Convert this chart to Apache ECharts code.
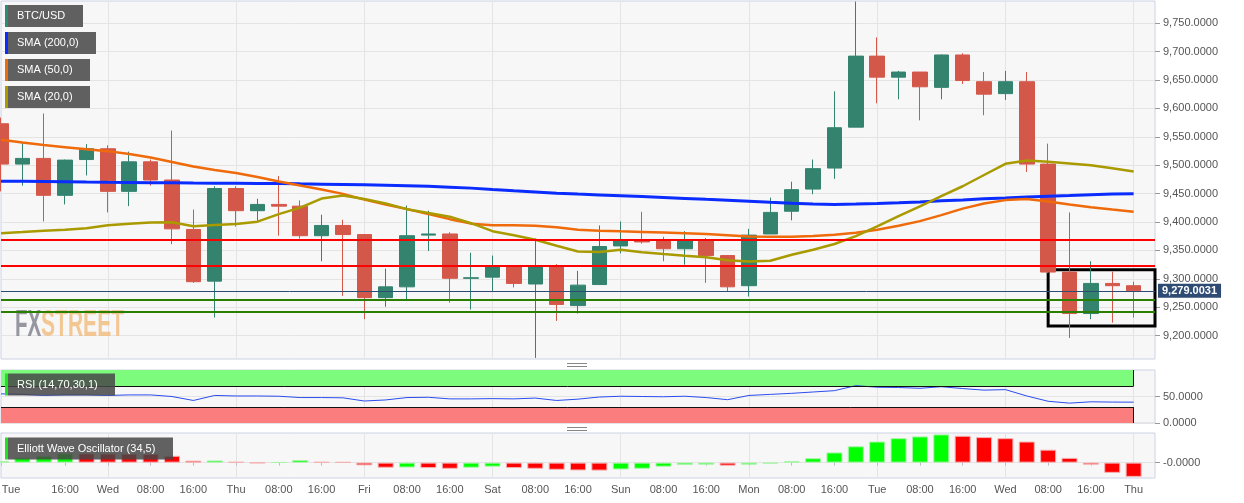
<!DOCTYPE html>
<html><head><meta charset="utf-8">
<script src="https://cdn.jsdelivr.net/npm/echarts@6/dist/echarts.min.js"></script>
<style>html,body{margin:0;padding:0;background:#fff}#c{width:1244px;height:503px}</style>
</head><body><div id="c"></div>
<script>
// ---- DATA ----
const categories = [
 'Tue 16 04:00','Tue 16 08:00','Tue 16 12:00','Tue 16 16:00','Tue 16 20:00',
 'Wed 17 00:00','Wed 17 04:00','Wed 17 08:00','Wed 17 12:00','Wed 17 16:00','Wed 17 20:00',
 'Thu 18 00:00','Thu 18 04:00','Thu 18 08:00','Thu 18 12:00','Thu 18 16:00','Thu 18 20:00',
 'Fri 19 00:00','Fri 19 04:00','Fri 19 08:00','Fri 19 12:00','Fri 19 16:00','Fri 19 20:00',
 'Sat 20 00:00','Sat 20 04:00','Sat 20 08:00','Sat 20 12:00','Sat 20 16:00','Sat 20 20:00',
 'Sun 21 00:00','Sun 21 04:00','Sun 21 08:00','Sun 21 12:00','Sun 21 16:00','Sun 21 20:00',
 'Mon 22 00:00','Mon 22 04:00','Mon 22 08:00','Mon 22 12:00','Mon 22 16:00','Mon 22 20:00',
 'Tue 23 00:00','Tue 23 04:00','Tue 23 08:00','Tue 23 12:00','Tue 23 16:00','Tue 23 20:00',
 'Wed 24 00:00','Wed 24 04:00','Wed 24 08:00','Wed 24 12:00','Wed 24 16:00','Wed 24 20:00',
 'Thu 25 00:00','Thu 25 04:00'
];
// [open, close, low, high]
const ohlc = [
 [9573,9502,9454,9584],[9502,9512,9464,9540],[9512,9447,9401,9591],[9447,9509,9431,9510],
 [9510,9529,9482,9537],[9529,9454,9417,9535],[9454,9506,9428,9524],[9506,9474,9464,9510],
 [9474,9388,9361,9561],[9387,9295,9293,9422],[9296,9459,9232,9463],[9459,9420,9392,9463],
 [9420,9431,9402,9441],[9431,9428,9376,9481],[9428,9376,9371,9438],[9376,9394,9331,9413],
 [9394,9378,9270,9404],[9378,9267,9229,9379],[9267,9286,9251,9318],[9286,9376,9264,9429],
 [9377,9379,9349,9420],[9379,9301,9258,9382],[9301,9302,9246,9346],[9303,9321,9278,9341],
 [9321,9292,9285,9322],[9291,9321,9161,9371],[9322,9255,9226,9326],[9253,9289,9239,9314],
 [9290,9357,9290,9394],[9358,9369,9345,9401],[9369,9365,9362,9418],[9368,9353,9331,9374],
 [9353,9368,9325,9384],[9369,9341,9293,9372],[9341,9286,9277,9342],[9288,9377,9269,9388],
 [9379,9417,9379,9443],[9419,9457,9403,9471],[9458,9494,9449,9510],[9495,9566,9476,9630],
 [9567,9692,9567,9788],[9692,9655,9609,9725],[9655,9664,9616,9666],[9664,9638,9579,9664],
 [9637,9694,9616,9695],[9694,9649,9643,9697],[9647,9625,9588,9664],[9626,9647,9615,9666],
 [9647,9502,9488,9664],[9502,9312,9310,9538],[9312,9239,9196,9417],[9239,9292,9229,9331],
 [9292,9288,9223,9313],[9288,9279,9232,9295]
];
const sma200 = [9471.8,9471.6,9471.3,9471,9470.4,9470,9469.7,9469.3,9469,9468.6,9468.3,9468.1,9467.9,9467.8,9467.2,9466.7,9466.2,9465.5,9464.8,9464.1,9463,9461.4,9459.7,9457.2,9455,9452.9,9450.8,9449.2,9447.8,9446.4,9444.8,9443.2,9441.6,9440,9438.5,9436.7,9434.9,9433.2,9431.7,9430.9,9431.6,9432.7,9433.9,9435.5,9437.3,9439,9440.8,9442.3,9443.9,9445.3,9446.7,9448.2,9449.2,9450];
const sma50 = [9544.9,9540.1,9535.4,9531.8,9528.3,9524.8,9519.8,9513.6,9505.7,9497.8,9491.6,9486.3,9479.2,9471.3,9464.2,9457.2,9449.6,9439.5,9430.7,9422.7,9413.9,9405.1,9397.2,9394.2,9394.2,9393.6,9391,9386.6,9384.8,9383.6,9382.7,9381.6,9380.4,9379.1,9376.9,9374.7,9374.2,9374.2,9375.4,9377.7,9381.3,9386.6,9393.6,9401.6,9412.2,9423.6,9432.5,9438.6,9440.7,9436,9430.7,9425.9,9421.9,9418];
const sma20 = [9380.4,9382.5,9384.8,9386.6,9389.2,9394.5,9397.2,9399.3,9399.8,9392.7,9395,9396.6,9400.7,9413.9,9425.4,9441.3,9446.6,9440.4,9432.5,9422.7,9416,9409.5,9398,9383.9,9376.9,9368.9,9358.3,9348.3,9347.2,9351.3,9346.8,9343.7,9340.7,9338,9332.7,9330.6,9331.8,9342.4,9351.3,9361.3,9375.1,9392.4,9410.4,9427.7,9445.7,9463,9482.8,9502.5,9508.3,9506,9503.1,9500,9494.8,9488.9];
const rsi = [55,54,52,53,53,52,53,53,50,42.5,52,51,51,50.5,48,48,47.5,41.5,43.5,48,48.5,45.5,45.5,46,45.5,47,42.5,45,49,50.5,50,49.5,50.5,48,44,52,54,56,58.5,61,70.5,67.5,67,65.5,68.5,65,62,63,51,41,37.5,40,39.5,39.3];
const ewo = [10,36.5,48.7,67,66,65,64,63,49,14,15.5,5,-3,2,19,5,4,-19.5,-36.5,-35,-39,-44,-36.5,-29,-39,-44,-51,-56,-57,-49,-44,-29,-17,-14.6,-22,-14.6,-7.3,9.7,31.7,73,117,151,175,187.5,202,192,182.6,175,151,92.5,34,-14.6,-73,-102];
const resistanceLevels = [9369, 9323];
const supportLevels = [9263.5, 9242.4];
const lastPrice = 9279.0031;
const priceTicks = [9200,9250,9300,9350,9400,9450,9500,9550,9600,9650,9700,9750];
const rsiTicks = [0, 50];
const ewoTicks = [0];
const boxRange = {from: 49, to: 54, top: 9316, bottom: 9217};

// ---- HELPERS ----
function fmt(v){ const s = Number(v).toFixed(4); const p = s.split('.'); return p[0].replace(/\B(?=(\d{3})+(?!\d))/g, ',') + '.' + p[1]; }
const FONT = "Arial, 'Liberation Sans', sans-serif";
const GRID_BORDER = '#cdd2e4';
const SPLIT = '#e4e4e4';
const dayLine = (i) => i % 6 === 5;

const chart = echarts.init(document.getElementById('c'), null, {renderer: 'canvas'});

function xAxisFor(gi, showLabels){
  return {
    type: 'category', gridIndex: gi, data: categories, boundaryGap: false,
    axisLine: {show: false},
    axisTick: showLabels ? {show: true, length: 3, lineStyle: {color: '#b8bccd'},
      interval: (i) => i === 0 || (i >= 3 && i % 2 === 1)} : {show: false},
    axisLabel: showLabels ? {
      show: true, color: '#555', fontSize: 11, fontFamily: FONT, margin: 6,
      interval: (i) => i === 0 || (i >= 3 && i % 2 === 1),
      formatter: (v, i) => {
        const p = v.split(' ');
        if (i === 0) return '{f|' + p[0] + '}';
        return p[2] === '00:00' ? p[0] : p[2];
      },
      rich: {f: {padding: [0, 0, 0, 20], color: '#555', fontSize: 11, fontFamily: FONT}}
    } : {show: false},
    splitLine: {show: true, interval: dayLine, lineStyle: {color: SPLIT, width: 1}}
  };
}

const ewoData = ewo.map((v, i) => {
  const up = i === 0 || v >= ewo[i - 1];
  return {value: v, itemStyle: {color: up ? '#00ff00' : '#ff0000', borderColor: up ? '#a8f5a8' : '#f5b0b0', borderWidth: 1}};
});

function legendBox(x, y, w, h, stripe, text, fill){
  return [
    {type: 'rect', z: 100, shape: {x: x + 3, y: y, width: w - 3, height: h}, style: {fill: fill}},
    {type: 'rect', z: 101, shape: {x: x, y: y, width: 3, height: h}, style: {fill: stripe}},
    {type: 'text', z: 102, x: x + 12, y: y + h / 2, style: {text: text, fill: '#fff', font: '11px ' + FONT, verticalAlign: 'middle', align: 'left'}}
  ];
}

const option = {
  animation: false,
  backgroundColor: '#ffffff',
  grid: [
    {left: 1, right: 89, top: 1, height: 358, show: true, backgroundColor: '#f7f7f7', borderColor: GRID_BORDER, borderWidth: 1, containLabel: false, outerBoundsMode: 'none'},
    {left: 1, right: 89, top: 370, height: 53, show: true, backgroundColor: '#f7f7f7', borderColor: GRID_BORDER, borderWidth: 1, containLabel: false, outerBoundsMode: 'none'},
    {left: 1, right: 89, top: 433, height: 45, show: true, backgroundColor: '#f7f7f7', borderColor: GRID_BORDER, borderWidth: 1, containLabel: false, outerBoundsMode: 'none'}
  ],
  xAxis: [xAxisFor(0, false), xAxisFor(1, false), xAxisFor(2, true)],
  yAxis: [
    {type: 'value', gridIndex: 0, position: 'right', min: 9159, max: 9789, scale: true,
     axisLine: {show: false},
     axisTick: {show: true, length: 5, customValues: priceTicks, lineStyle: {color: '#999'}},
     axisLabel: {show: true, customValues: priceTicks, formatter: fmt, color: '#555', fontSize: 11, fontFamily: FONT, margin: 8},
     splitLine: {show: true, lineStyle: {color: SPLIT}}},
    {type: 'value', gridIndex: 1, position: 'right', min: 0, max: 100,
     axisLine: {show: false},
     axisTick: {show: true, length: 5, customValues: rsiTicks, lineStyle: {color: '#999'}},
     axisLabel: {show: true, customValues: rsiTicks, formatter: (v) => fmt(v), color: '#555', fontSize: 11, fontFamily: FONT, margin: 8},
     splitLine: {show: true, lineStyle: {color: SPLIT}}},
    {type: 'value', gridIndex: 2, position: 'right', min: -110, max: 212,
     axisLine: {show: false},
     axisTick: {show: true, length: 5, customValues: ewoTicks, lineStyle: {color: '#999'}},
     axisLabel: {show: true, customValues: ewoTicks, formatter: () => '-0.0000', color: '#555', fontSize: 11, fontFamily: FONT, margin: 8},
     splitLine: {show: true, lineStyle: {color: SPLIT}}}
  ],
  series: [
    {
      name: 'BTC/USD', type: 'candlestick', xAxisIndex: 0, yAxisIndex: 0, data: ohlc, barWidth: 15, z: 2, clip: true,
      itemStyle: {color: '#33836f', color0: '#d4584a', borderColor: '#33836f', borderColor0: '#d4584a', borderWidth: 1},
      markLine: {
        symbol: 'none', silent: true, animation: false,
        data: [
          ...resistanceLevels.map(v => ({yAxis: v, lineStyle: {color: '#ff0000', width: 2, type: 'solid'}, label: {show: false}})),
          ...supportLevels.map(v => ({yAxis: v, lineStyle: {color: '#2b7f00', width: 2, type: 'solid'}, label: {show: false}})),
          {yAxis: lastPrice, lineStyle: {color: '#2e4b73', width: 1, type: 'solid'},
           label: {show: true, position: 'end', distance: 3, formatter: () => fmt(lastPrice), color: '#fff', fontWeight: 'bold', fontSize: 11, fontFamily: FONT, backgroundColor: '#2e4b73', padding: [2, 4, 1, 4]}}
        ]
      },
      markArea: {
        silent: true,
        itemStyle: {color: 'rgba(0,0,0,0)', borderColor: '#000', borderWidth: 3},
        data: [[{xAxis: categories[boxRange.from], yAxis: boxRange.top}, {xAxis: categories[boxRange.to], yAxis: boxRange.bottom}]]
      }
    },
    {name: 'SMA (200,0)', type: 'line', xAxisIndex: 0, yAxisIndex: 0, data: sma200, showSymbol: false, z: 3, lineStyle: {color: '#0a2cff', width: 3}},
    {name: 'SMA (50,0)', type: 'line', xAxisIndex: 0, yAxisIndex: 0, data: sma50, showSymbol: false, z: 3, lineStyle: {color: '#ef6a0a', width: 2.5}},
    {name: 'SMA (20,0)', type: 'line', xAxisIndex: 0, yAxisIndex: 0, data: sma20, showSymbol: false, z: 3, lineStyle: {color: '#a99a00', width: 2.5}},
    {
      name: 'RSI', type: 'line', xAxisIndex: 1, yAxisIndex: 1, data: rsi, showSymbol: false, z: 3,
      lineStyle: {color: '#2a4cf0', width: 1},
      markArea: {
        silent: true,
        data: [
          [{xAxis: categories[0], yAxis: 70, itemStyle: {color: '#7dfb7d'}}, {xAxis: categories[53], yAxis: 100}],
          [{xAxis: categories[0], yAxis: 0, itemStyle: {color: '#fb7d7d'}}, {xAxis: categories[53], yAxis: 30}]
        ]
      },
      markLine: {
        symbol: 'none', silent: true,
        lineStyle: {color: '#111', width: 1, type: 'solid'}, label: {show: false},
        data: [
          [{xAxis: categories[0], yAxis: 70}, {xAxis: categories[53], yAxis: 70}],
          [{xAxis: categories[0], yAxis: 30}, {xAxis: categories[53], yAxis: 30}],
          [{xAxis: categories[53], yAxis: 70}, {xAxis: categories[53], yAxis: 100}],
          [{xAxis: categories[53], yAxis: 0}, {xAxis: categories[53], yAxis: 30}]
        ]
      }
    },
    {name: 'EWO', type: 'bar', xAxisIndex: 2, yAxisIndex: 2, data: ewoData, barWidth: 16, z: 2}
  ],
  graphic: [
    ...legendBox(5, 5, 78, 22, '#2f8a72', 'BTC/USD', '#606060'),
    ...legendBox(5, 32, 91, 22, '#0a2cff', 'SMA (200,0)', '#606060'),
    ...legendBox(5, 59, 85, 22, '#ef6a0a', 'SMA (50,0)', '#606060'),
    ...legendBox(5, 86, 85, 22, '#a99a00', 'SMA (20,0)', '#606060'),
    ...legendBox(5, 373.5, 110, 22, '#22e022', 'RSI (14,70,30,1)', 'rgba(70,70,70,0.85)'),
    ...legendBox(5, 437.5, 168, 22, '#22e022', 'Elliott Wave Oscillator (34,5)', 'rgba(70,70,70,0.85)'),
    {type: 'text', z: 1, x: 15, y: 326, scaleX: 0.57, style: {text: 'FX', fill: 'rgba(140,140,152,0.9)', font: 'bold 36px ' + FONT, verticalAlign: 'middle', align: 'left'}},
    {type: 'text', z: 1, x: 41, y: 326, scaleX: 0.585, style: {text: 'STREET', fill: 'rgba(242,190,130,0.85)', font: 'bold 36px ' + FONT, verticalAlign: 'middle', align: 'left'}},
    {type: 'line', z: 100, shape: {x1: 567, y1: 363.5, x2: 587, y2: 363.5}, style: {stroke: '#888', lineWidth: 1}},
    {type: 'line', z: 100, shape: {x1: 567, y1: 366.5, x2: 587, y2: 366.5}, style: {stroke: '#888', lineWidth: 1}},
    {type: 'line', z: 100, shape: {x1: 567, y1: 427.5, x2: 587, y2: 427.5}, style: {stroke: '#888', lineWidth: 1}},
    {type: 'line', z: 100, shape: {x1: 567, y1: 430.5, x2: 587, y2: 430.5}, style: {stroke: '#888', lineWidth: 1}}
  ]
};
chart.setOption(option);
</script>
</body></html>
